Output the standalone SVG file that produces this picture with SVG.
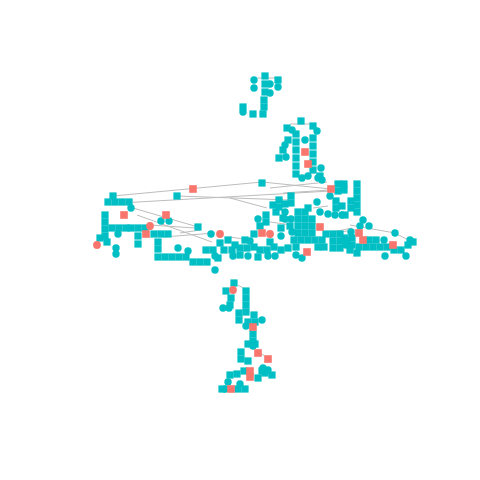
<svg xmlns="http://www.w3.org/2000/svg" xmlns:xlink="http://www.w3.org/1999/xlink" width="480" height="480" viewBox="0 0 480 480">
<style>
.e line{stroke:#bdbdbd;stroke-width:1;fill:none}
</style>
<defs>
<rect id="s" x="-3.6" y="-3.6" width="7.2" height="7.2" fill="#00BFC4"/>
<circle id="c" r="3.7" fill="#00BFC4"/>
<rect id="S" x="-3.8" y="-3.8" width="7.6" height="7.6" fill="#F8766D"/>
<circle id="C" r="3.9" fill="#F8766D"/>
</defs>
<rect width="480" height="480" fill="#fff"/>
<g id="connectors" class="e">
<line x1="258" y1="78" x2="275" y2="78"/>
<line x1="290" y1="124" x2="315" y2="124"/>
<line x1="283" y1="193" x2="330" y2="190"/>
<line x1="113" y1="196" x2="262" y2="182"/>
<line x1="262" y1="182" x2="331" y2="189"/>
<line x1="120" y1="203" x2="331" y2="191"/>
<line x1="177" y1="196" x2="290" y2="200"/>
<line x1="270" y1="188" x2="327" y2="182"/>
<line x1="230" y1="198" x2="267" y2="208"/>
<line x1="133" y1="208" x2="198" y2="227"/>
<line x1="137" y1="215" x2="212" y2="242"/>
<line x1="150" y1="225" x2="195" y2="228"/>
<line x1="163" y1="237" x2="215" y2="233"/>
<line x1="180" y1="233" x2="200" y2="230"/>
<line x1="230" y1="237" x2="250" y2="240"/>
<line x1="270" y1="222" x2="292" y2="225"/>
<line x1="313" y1="208" x2="328" y2="206"/>
<line x1="333" y1="232" x2="352" y2="228"/>
<line x1="340" y1="232" x2="355" y2="230"/>
<line x1="350" y1="225" x2="395" y2="233"/>
<line x1="395" y1="233" x2="412" y2="242"/>
<line x1="367" y1="243" x2="380" y2="240"/>
<line x1="238" y1="285" x2="243" y2="288"/>
<line x1="256" y1="350" x2="266" y2="357"/>
</g>
<g id="cluster-top">
<use href="#s" x="265" y="76"/><use href="#s" x="278" y="80"/><use href="#s" x="265" y="84"/><use href="#s" x="265" y="92"/><use href="#s" x="264" y="100"/><use href="#s" x="264" y="107"/><use href="#s" x="243" y="107"/><use href="#s" x="253" y="114"/><use href="#s" x="263" y="114"/>
<use href="#c" x="254" y="80"/><use href="#c" x="254" y="88"/><use href="#c" x="270" y="93"/><use href="#c" x="278" y="87"/><use href="#c" x="243" y="112"/><use href="#c" x="270" y="84"/>
</g>
<g id="cluster-upper">
<use href="#s" x="301" y="121"/><use href="#s" x="287" y="128"/><use href="#s" x="313" y="126"/><use href="#s" x="296" y="134"/><use href="#s" x="296" y="142"/><use href="#s" x="296" y="150"/><use href="#s" x="296" y="158"/><use href="#s" x="296" y="166"/><use href="#s" x="296" y="174"/><use href="#s" x="313" y="138"/><use href="#s" x="313" y="146"/><use href="#s" x="313" y="154"/><use href="#s" x="313" y="162"/><use href="#s" x="313" y="170"/><use href="#s" x="320" y="176"/><use href="#s" x="279" y="158"/><use href="#s" x="283" y="150"/><use href="#s" x="288" y="140"/>
<use href="#c" x="292" y="130"/><use href="#c" x="317" y="131"/><use href="#c" x="285" y="145"/><use href="#c" x="286" y="157"/><use href="#c" x="305" y="140"/><use href="#c" x="321" y="168"/><use href="#c" x="322" y="180"/><use href="#c" x="302" y="178"/><use href="#c" x="308" y="176"/>
<use href="#S" x="305" y="152"/><use href="#S" x="308" y="164"/>
</g>
<g id="cluster-left">
<use href="#s" x="113" y="196"/><use href="#s" x="108" y="202"/><use href="#s" x="115" y="202"/><use href="#s" x="122" y="202"/><use href="#s" x="129" y="202"/><use href="#s" x="105" y="215"/><use href="#s" x="105" y="222"/><use href="#s" x="105" y="229"/><use href="#s" x="105" y="236"/><use href="#s" x="112" y="228"/><use href="#s" x="119" y="228"/><use href="#s" x="126" y="228"/><use href="#s" x="100" y="238"/><use href="#s" x="107" y="242"/><use href="#s" x="138" y="228"/><use href="#s" x="138" y="236"/><use href="#s" x="138" y="244"/><use href="#s" x="177" y="196"/><use href="#s" x="154" y="234"/><use href="#s" x="161" y="234"/><use href="#s" x="168" y="234"/><use href="#s" x="158" y="242"/><use href="#s" x="158" y="249"/><use href="#s" x="131" y="228"/><use href="#s" x="145" y="228"/>
<use href="#c" x="131" y="208"/><use href="#c" x="161" y="221"/><use href="#c" x="169" y="221"/><use href="#c" x="116" y="248"/><use href="#c" x="116" y="254"/><use href="#c" x="178" y="248"/><use href="#c" x="188" y="251"/><use href="#c" x="118" y="234"/>
<use href="#S" x="124" y="215"/><use href="#S" x="166" y="215"/><use href="#S" x="146" y="234"/>
<use href="#C" x="150" y="226"/><use href="#C" x="97" y="245"/>
</g>
<g id="cluster-center">
<use href="#s" x="262" y="183"/><use href="#s" x="198" y="227"/><use href="#s" x="245" y="240"/><use href="#s" x="266" y="215"/><use href="#s" x="266" y="222"/><use href="#s" x="260" y="226"/><use href="#s" x="279" y="200"/><use href="#s" x="279" y="207"/><use href="#s" x="273" y="205"/><use href="#s" x="254" y="234"/>
<use href="#s" x="158" y="257"/><use href="#s" x="165" y="257"/><use href="#s" x="172" y="257"/><use href="#s" x="179" y="257"/><use href="#s" x="186" y="257"/><use href="#s" x="193" y="262"/><use href="#s" x="200" y="262"/><use href="#s" x="207" y="262"/>
<use href="#s" x="206" y="250"/><use href="#s" x="213" y="250"/><use href="#s" x="220" y="243"/><use href="#s" x="228" y="240"/><use href="#s" x="235" y="245"/><use href="#s" x="224" y="250"/><use href="#s" x="232" y="250"/><use href="#s" x="240" y="248"/><use href="#s" x="247" y="248"/><use href="#s" x="254" y="247"/><use href="#s" x="260" y="250"/><use href="#s" x="267" y="250"/><use href="#s" x="274" y="247"/><use href="#s" x="281" y="250"/><use href="#s" x="258" y="257"/><use href="#s" x="240" y="255"/><use href="#s" x="270" y="242"/><use href="#s" x="218" y="258"/><use href="#s" x="288" y="248"/>
<use href="#c" x="211" y="234"/><use href="#c" x="258" y="219"/><use href="#c" x="215" y="270"/><use href="#c" x="248" y="256"/><use href="#c" x="233" y="256"/><use href="#c" x="250" y="241"/><use href="#c" x="215" y="256"/><use href="#c" x="268" y="256"/><use href="#c" x="275" y="256"/>
<use href="#S" x="193" y="189"/><use href="#S" x="262" y="233"/>
<use href="#C" x="220" y="234"/><use href="#C" x="270" y="234"/>
</g>
<g id="cluster-center-right">
<use href="#s" x="338" y="184"/><use href="#s" x="338" y="191"/><use href="#s" x="291" y="196"/><use href="#s" x="291" y="203"/><use href="#s" x="285" y="204"/><use href="#s" x="276" y="212"/><use href="#s" x="298" y="212"/><use href="#s" x="305" y="212"/><use href="#s" x="298" y="219"/><use href="#s" x="305" y="219"/><use href="#s" x="312" y="219"/><use href="#s" x="298" y="226"/><use href="#s" x="305" y="226"/><use href="#s" x="312" y="226"/><use href="#s" x="298" y="233"/><use href="#s" x="305" y="233"/><use href="#s" x="312" y="233"/><use href="#s" x="326" y="234"/><use href="#s" x="333" y="234"/><use href="#s" x="340" y="234"/><use href="#s" x="333" y="241"/><use href="#s" x="340" y="241"/><use href="#s" x="347" y="241"/><use href="#s" x="333" y="248"/><use href="#s" x="340" y="248"/><use href="#s" x="294" y="240"/><use href="#s" x="301" y="240"/><use href="#s" x="308" y="240"/><use href="#s" x="315" y="240"/><use href="#s" x="322" y="240"/><use href="#s" x="296" y="247"/><use href="#s" x="318" y="247"/><use href="#s" x="324" y="247"/>
<use href="#s" x="336" y="201"/><use href="#s" x="342" y="206"/><use href="#s" x="336" y="208"/><use href="#s" x="351" y="201"/><use href="#s" x="351" y="208"/><use href="#s" x="345" y="215"/><use href="#s" x="308" y="208"/>
<use href="#s" x="283" y="218"/><use href="#s" x="290" y="226"/><use href="#s" x="281" y="228"/>
<use href="#c" x="318" y="178"/><use href="#c" x="317" y="202"/><use href="#c" x="330" y="196"/><use href="#c" x="285" y="212"/><use href="#c" x="285" y="219"/><use href="#c" x="291" y="219"/><use href="#c" x="328" y="214"/><use href="#c" x="335" y="215"/><use href="#c" x="342" y="215"/><use href="#c" x="320" y="212"/><use href="#c" x="296" y="255"/><use href="#c" x="302" y="258"/><use href="#c" x="292" y="232"/><use href="#c" x="281" y="236"/>
<use href="#S" x="331" y="189"/><use href="#S" x="320" y="227"/><use href="#S" x="307" y="252"/>
</g>
<g id="cluster-right">
<use href="#s" x="357" y="184"/><use href="#s" x="357" y="191"/><use href="#s" x="357" y="198"/><use href="#s" x="357" y="205"/><use href="#s" x="357" y="212"/><use href="#s" x="344" y="184"/><use href="#s" x="344" y="190"/><use href="#s" x="345" y="238"/><use href="#s" x="352" y="238"/><use href="#s" x="352" y="245"/><use href="#s" x="359" y="247"/><use href="#s" x="366" y="247"/><use href="#s" x="373" y="247"/><use href="#s" x="380" y="247"/><use href="#s" x="387" y="247"/><use href="#s" x="394" y="250"/><use href="#s" x="401" y="250"/><use href="#s" x="408" y="245"/><use href="#s" x="413" y="242"/><use href="#s" x="376" y="240"/><use href="#s" x="369" y="240"/><use href="#s" x="350" y="250"/><use href="#s" x="357" y="253"/>
<use href="#c" x="363" y="220"/><use href="#c" x="369" y="226"/><use href="#c" x="360" y="226"/><use href="#c" x="395" y="233"/><use href="#c" x="410" y="240"/><use href="#c" x="384" y="240"/><use href="#c" x="406" y="256"/><use href="#c" x="385" y="256"/><use href="#c" x="351" y="232"/><use href="#c" x="346" y="245"/>
<use href="#S" x="359" y="233"/><use href="#S" x="363" y="240"/><use href="#S" x="393" y="245"/>
</g>
<g id="cluster-bottom">
<use href="#s" x="234" y="283"/><use href="#s" x="226" y="291"/><use href="#s" x="246" y="291"/><use href="#s" x="246" y="298"/><use href="#s" x="246" y="305"/><use href="#s" x="246" y="312"/><use href="#s" x="231" y="298"/><use href="#s" x="230" y="305"/><use href="#s" x="239" y="313"/><use href="#s" x="239" y="320"/><use href="#s" x="254" y="315"/><use href="#s" x="248" y="322"/><use href="#s" x="255" y="322"/><use href="#s" x="253" y="334"/><use href="#s" x="253" y="341"/><use href="#s" x="248" y="344"/><use href="#s" x="255" y="344"/><use href="#s" x="241" y="352"/><use href="#s" x="241" y="359"/><use href="#s" x="248" y="361"/><use href="#s" x="262" y="371"/><use href="#s" x="258" y="378"/><use href="#s" x="265" y="373"/><use href="#s" x="272" y="375"/><use href="#s" x="244" y="371"/><use href="#s" x="237" y="374"/><use href="#s" x="230" y="375"/><use href="#s" x="222" y="389"/><use href="#s" x="238" y="389"/><use href="#s" x="245" y="389"/>
<use href="#c" x="223" y="308"/><use href="#c" x="229" y="308"/><use href="#c" x="262" y="320"/><use href="#c" x="246" y="326"/><use href="#c" x="263" y="368"/><use href="#c" x="268" y="370"/><use href="#c" x="228" y="382"/><use href="#c" x="225" y="389"/><use href="#c" x="240" y="384"/><use href="#c" x="253" y="346"/>
<use href="#S" x="253" y="327"/><use href="#S" x="258" y="353"/><use href="#S" x="268" y="359"/><use href="#S" x="250" y="371"/><use href="#S" x="250" y="377"/><use href="#S" x="231" y="389"/>
<use href="#C" x="233" y="290"/>
</g>
</svg>
